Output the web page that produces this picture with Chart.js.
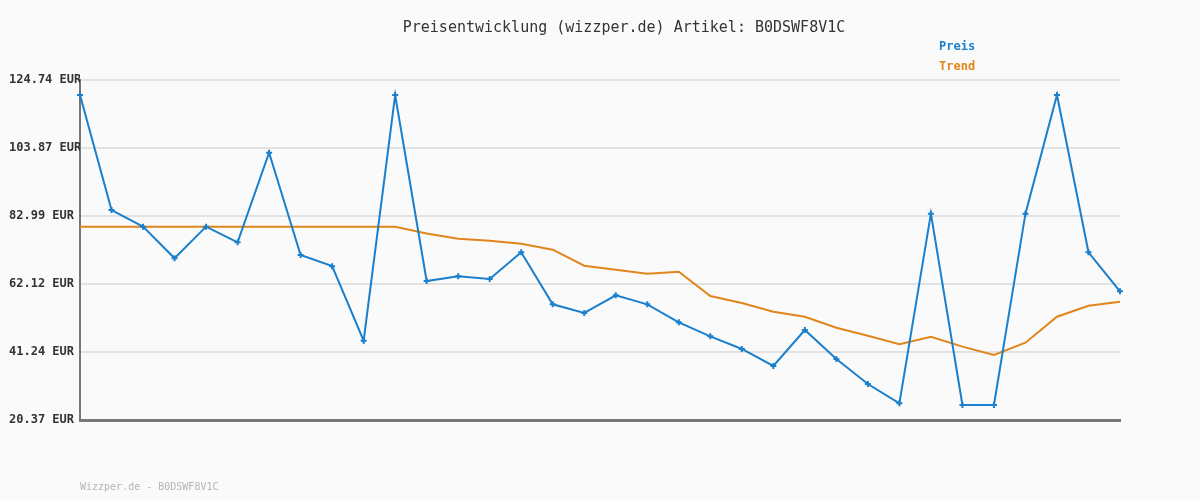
<!DOCTYPE html>
<html>
<head>
<meta charset="utf-8">
<script src="https://cdn.jsdelivr.net/npm/chart.js@4.4.1/dist/chart.umd.min.js"></script>
<style>
  html, body { margin: 0; padding: 0; background: #fafafa; }
  #wrap { width: 1200px; height: 500px; }
</style>
</head>
<body>
<div id="wrap"><canvas id="chart" width="1200" height="500"></canvas></div>
<script>
// Daten
const labels = ['1','2','3','4','5','6','7','8','9','10','11','12','13','14','15','16','17',
                '18','19','20','21','22','23','24','25','26','27','28','29','30','31','32','33','34'];
const preis = [120.13, 84.83, 79.72, 70.0, 79.72, 74.9, 102.4, 71.0, 67.6, 44.7, 120.13,
               63.04, 64.48, 63.65, 71.85, 55.88, 53.22, 58.65, 55.88, 50.36, 46.06, 42.17,
               36.95, 47.99, 39.09, 31.42, 25.49, 83.7, 24.97, 24.97, 83.7, 120.13, 71.85, 59.87];
const trend = [79.72, 79.72, 79.72, 79.72, 79.72, 79.72, 79.72, 79.72, 79.72, 79.72, 79.72,
               77.6, 76.02, 75.4, 74.5, 72.65, 67.73, 66.5, 65.27, 65.9, 58.43, 56.29,
               53.63, 52.08, 48.7, 46.25, 43.6, 45.94, 42.9, 40.32, 44.1, 52.08, 55.46, 56.68];
const yTicks = [20.37, 41.24, 62.12, 82.99, 103.87, 124.74];

const blue = '#1a7fcc';
const orange = '#e0861c';
const mono = '"DejaVu Sans Mono", monospace';

// Titel, Legende und Fusszeile direkt auf den Canvas
const textPlugin = {
    id: 'texte',
    afterDraw(chart) {
        const ctx = chart.ctx;
        ctx.save();
        ctx.textBaseline = 'middle';
        ctx.textAlign = 'center';
        ctx.fillStyle = '#333';
        ctx.font = '15px ' + mono;
        ctx.fillText('Preisentwicklung (wizzper.de) Artikel: B0DSWF8V1C', 624, 28);

        ctx.textAlign = 'left';
        ctx.font = 'bold 12px ' + mono;
        ctx.fillStyle = blue;
        ctx.fillText('Preis', 939, 47);
        ctx.fillStyle = orange;
        ctx.fillText('Trend', 939, 67);

        ctx.font = '10px ' + mono;
        ctx.fillStyle = '#b4b4b4';
        ctx.fillText('Wizzper.de - B0DSWF8V1C', 80, 487);
        ctx.restore();
    }
};

new Chart(document.getElementById('chart'), {
    type: 'line',
    data: {
        labels: labels,
        datasets: [
            {
                label: 'Trend',
                data: trend,
                borderColor: orange,
                borderWidth: 2,
                pointRadius: 0,
                tension: 0,
                order: 2
            },
            {
                label: 'Preis',
                data: preis,
                borderColor: blue,
                borderWidth: 2,
                pointStyle: 'cross',
                pointRadius: 3,
                pointBorderWidth: 2,
                pointBorderColor: blue,
                tension: 0,
                order: 1
            }
        ]
    },
    options: {
        responsive: false,
        animation: false,
        devicePixelRatio: 1,
        layout: { padding: { top: 80, right: 80, bottom: 80, left: 9 } },
        plugins: {
            legend: { display: false },
            tooltip: { enabled: false }
        },
        scales: {
            x: {
                offset: false,
                grid: { display: false },
                ticks: { display: false },
                border: { display: true, color: '#777', width: 3 },
                afterFit: s => { s.height = 0; }
            },
            y: {
                min: yTicks[0],
                max: yTicks[yTicks.length - 1],
                afterBuildTicks: s => { s.ticks = yTicks.map(v => ({ value: v })); },
                afterFit: s => { s.width = 71; },
                grid: { color: '#e2e2e2', lineWidth: 2, drawTicks: false },
                border: { display: true, color: '#777', width: 2 },
                ticks: {
                    crossAlign: 'far',
                    color: '#333',
                    font: { family: mono, size: 12, weight: 'bold' },
                    callback: v => v.toFixed(2) + ' EUR'
                }
            }
        }
    },
    plugins: [textPlugin]
});
</script>
</body>
</html>
